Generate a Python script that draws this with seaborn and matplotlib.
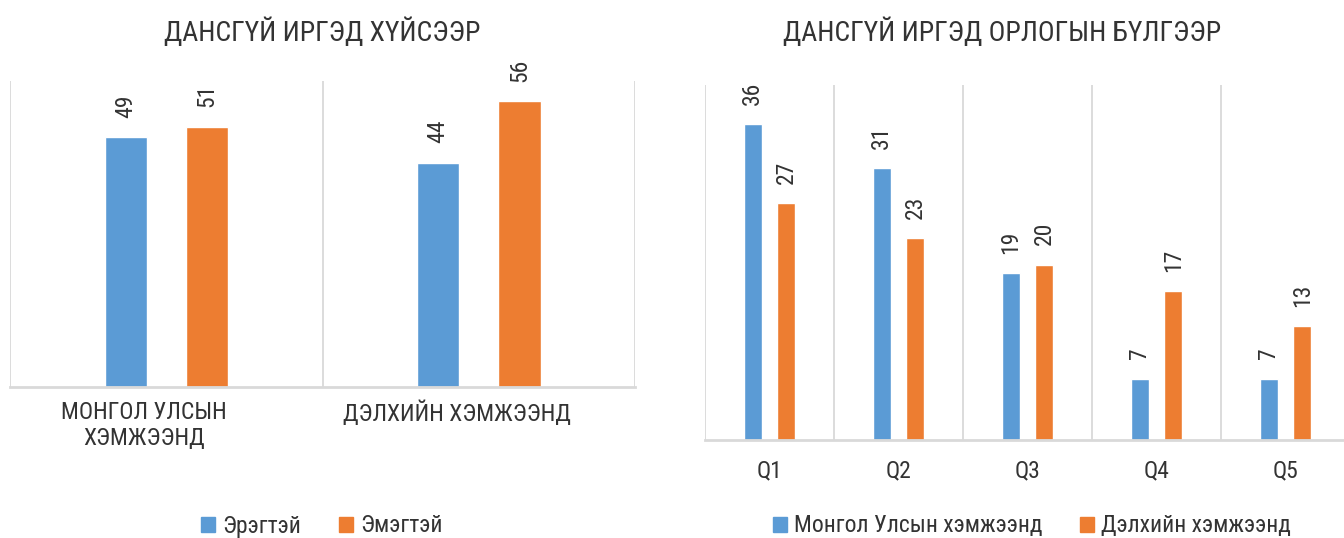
import matplotlib.pyplot as plt
import pandas as pd
import seaborn as sns
from matplotlib import font_manager
from matplotlib.transforms import ScaledTranslation

# Data
sex_groups = ["МОНГОЛ УЛСЫН\nХЭМЖЭЭНД", "ДЭЛХИЙН ХЭМЖЭЭНД"]
sex_series = ["Эрэгтэй", "Эмэгтэй"]
male = [49, 44]
female = [51, 56]

quintiles = ["Q1", "Q2", "Q3", "Q4", "Q5"]
income_series = ["Монгол Улсын хэмжээнд", "Дэлхийн хэмжээнд"]
mongolia = [36, 31, 19, 7, 7]
world = [27, 23, 20, 17, 13]

colors = ["#5B9BD5", "#ED7D31"]
grid_color = "#D9D9D9"
text_color = "#333333"

sns.set_theme(style="white")
available = {f.name for f in font_manager.fontManager.ttflist}
narrow = [f for f in ["Liberation Sans Narrow", "Roboto Condensed", "Open Sans Condensed"] if f in available]
plt.rcParams["font.family"] = narrow + ["Roboto", "DejaVu Sans"]


def long_frame(groups, series, first, second):
    return pd.DataFrame({
        "group": list(groups) * 2,
        "series": [series[0]] * len(groups) + [series[1]] * len(groups),
        "value": list(first) + list(second),
    })


def draw_panel(fig, ax, df, order, hue_order, ymax, tick_pad, gap, shift_px=0):
    sns.barplot(data=df, x="group", y="value", hue="series", order=order, hue_order=hue_order,
                palette=dict(zip(hue_order, colors)), width=0.52, gap=gap, ax=ax,
                saturation=1, legend=True)
    for cont in ax.containers:
        ax.bar_label(cont, padding=14, rotation=90, fontsize=17, color=text_color)
    ax.set_xlim(-0.5, len(order) - 0.5)
    ax.set_ylim(0, ymax)
    ax.set_yticks([])
    ax.set_xlabel("")
    ax.set_ylabel("")
    # category separators drawn as minor gridlines
    ax.set_xticks([i - 0.5 for i in range(len(order) + 1)], minor=True)
    ax.grid(which="minor", axis="x", color=grid_color, lw=1.3)
    ax.grid(which="major", visible=False)
    ax.tick_params(which="both", length=0)
    ax.tick_params(axis="x", labelsize=17, labelcolor=text_color, pad=tick_pad)
    for side in ["top", "left", "right"]:
        ax.spines[side].set_visible(False)
    ax.spines["bottom"].set_color(grid_color)
    ax.spines["bottom"].set_linewidth(2)
    if shift_px:
        for lbl in ax.get_xticklabels():
            lbl.set_transform(lbl.get_transform() + ScaledTranslation(shift_px / 100, 0, fig.dpi_scale_trans))
    ax.get_legend().remove()


fig = plt.figure(figsize=(13.44, 5.38), dpi=100)
W, H = 1344, 538

ax1 = fig.add_axes([10 / W, 151 / H, 625 / W, 306 / H])
ax2 = fig.add_axes([705 / W, 98 / H, 645 / W, 355 / H])

sex_df = long_frame(sex_groups, sex_series, male, female)
income_df = long_frame(quintiles, income_series, mongolia, world)

draw_panel(fig, ax1, sex_df, sex_groups, sex_series, 60, 10, 0.48, shift_px=-22)
draw_panel(fig, ax2, income_df, quintiles, income_series, 40.5, 14, 0.46)

fig.text(322 / W, 1 - 32 / H, "ДАНСГҮЙ ИРГЭД ХҮЙСЭЭР", ha="center", va="center",
         fontsize=20, color=text_color)
fig.text(1002 / W, 1 - 32 / H, "ДАНСГҮЙ ИРГЭД ОРЛОГЫН БҮЛГЭЭР", ha="center", va="center",
         fontsize=20, color=text_color)

for ax, names, cx in [(ax1, sex_series, 322), (ax2, income_series, 1032)]:
    handles = [plt.Rectangle((0, 0), 1, 1, color=c) for c in colors]
    fig.legend(handles, names, loc="center", bbox_to_anchor=(cx / W, 1 - 526 / H),
               bbox_transform=fig.transFigure, ncol=2, frameon=False, fontsize=17,
               handlelength=0.6, handleheight=0.6, handletextpad=0.3, columnspacing=1.6,
               labelcolor=text_color)

fig.savefig("out.png", dpi=100)
